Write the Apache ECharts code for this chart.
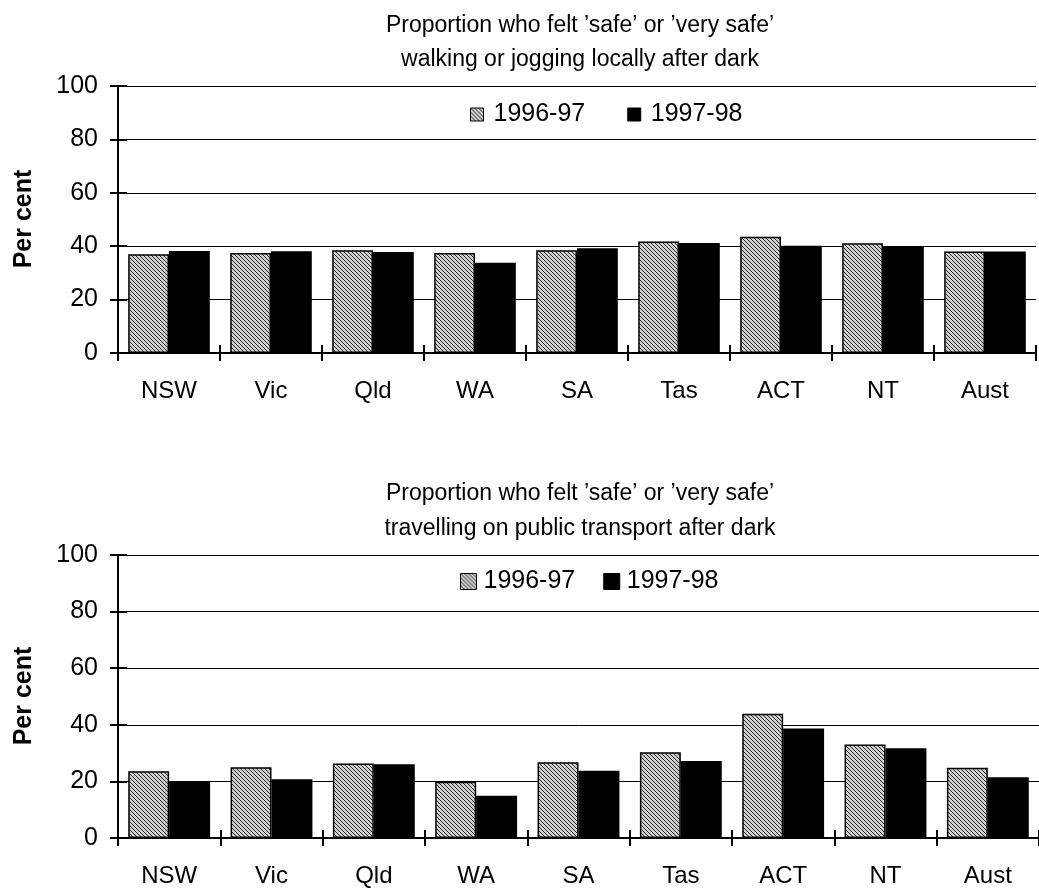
<!DOCTYPE html>
<html><head><meta charset="utf-8">
<script src="https://cdn.jsdelivr.net/npm/echarts@6/dist/echarts.min.js"></script>
<style>html,body{margin:0;padding:0;background:#fff}#c{width:1039px;height:889px}</style>
</head><body><div id="c"></div>
<script>
const categories = ['NSW','Vic','Qld','WA','SA','Tas','ACT','NT','Aust'];
const seriesNames = ['1996-97','1997-98'];
const walking9697 = [37.0, 37.5, 38.5, 37.5, 38.5, 41.8, 43.5, 41.1, 38.0];
const walking9798 = [38.2, 38.1, 37.8, 33.8, 39.2, 41.2, 40.2, 40.0, 38.0];
const transport9697 = [23.6, 25.0, 26.3, 19.9, 26.8, 30.3, 43.9, 33.0, 24.8];
const transport9798 = [19.8, 20.8, 26.1, 14.9, 23.8, 27.2, 38.7, 31.7, 21.5];
const yMin = 0, yMax = 100, yStep = 20;
const titleTop = ['Proportion who felt \u2019safe\u2019 or \u2019very safe\u2019', 'walking or jogging locally after dark'];
const titleBottom = ['Proportion who felt \u2019safe\u2019 or \u2019very safe\u2019', 'travelling on public transport after dark'];
const yName = 'Per cent';

const FONT = '"Liberation Sans", Arial, sans-serif';

function hatch(){
  const c = document.createElement('canvas'); c.width = 4; c.height = 4;
  const g = c.getContext('2d');
  g.fillStyle = '#d0d0d0'; g.fillRect(0,0,4,4);
  g.fillStyle = '#262626';
  for (let i = 0; i < 4; i++) g.fillRect(i, i, 1, 1);
  return c;
}
const hatchFill = {image: hatch(), repeat: 'repeat'};

const chart = echarts.init(document.getElementById('c'), null, {renderer: 'canvas'});

const grids = [
  {left: 118, top: 86, width: 918, height: 267},
  {left: 118, top: 555, width: 931, height: 283}
];

function xAxes(gi, labelMargin){
  return [
    {gridIndex: gi, type: 'category', data: categories, boundaryGap: true,
     axisLine: {lineStyle: {color: '#000', width: 2}},
     axisTick: {show: true, inside: false, length: 8, lineStyle: {color: '#000', width: 2}},
     axisLabel: {color: '#000', fontSize: 24, fontFamily: FONT, margin: labelMargin}},
    {gridIndex: gi, type: 'category', data: categories, boundaryGap: true, position: 'bottom',
     axisLine: {show: false},
     axisTick: {show: true, inside: true, length: 8, lineStyle: {color: '#000', width: 2}},
     axisLabel: {show: false}}
  ];
}
function yAxes(gi){
  return [
    {gridIndex: gi, type: 'value', min: yMin, max: yMax, interval: yStep,
     axisLine: {show: true, lineStyle: {color: '#000', width: 2}},
     axisTick: {show: true, inside: false, length: 8, lineStyle: {color: '#000', width: 2}},
     splitLine: {show: true, lineStyle: {color: '#000', width: 1}},
     axisLabel: {color: '#000', fontSize: 25, fontFamily: FONT, margin: 20}},
    {gridIndex: gi, type: 'value', min: yMin, max: yMax, interval: yStep, position: 'left',
     axisLine: {show: false},
     axisTick: {show: true, inside: true, length: 9, lineStyle: {color: '#000', width: 2}},
     splitLine: {show: false},
     axisLabel: {show: false}}
  ];
}

function barSeries(name, data, xi, yi, fill){
  return {
    name: name, type: 'bar', xAxisIndex: xi, yAxisIndex: yi, data: data,
    barWidth: '40%', barGap: '0%',
    itemStyle: {color: fill, borderColor: '#000', borderWidth: 1.5},
    emphasis: {disabled: true}, animation: false
  };
}

function titleGraphic(lines, ys){
  return lines.map((t, i) => ({
    type: 'text', x: 580, y: ys[i],
    style: {text: t, font: '23px ' + FONT, fill: '#000', textAlign: 'center', textVerticalAlign: 'middle'}
  }));
}
function yNameGraphic(cy){
  return {type: 'text', x: 24, y: cy, rotation: Math.PI / 2,
    style: {text: yName, font: 'bold 25px ' + FONT, fill: '#000', textAlign: 'center', textVerticalAlign: 'middle'}};
}

chart.setOption({
  animation: false,
  backgroundColor: '#fff',
  grid: grids,
  xAxis: [...xAxes(0, 26), ...xAxes(1, 26)],
  yAxis: [...yAxes(0), ...yAxes(1)],
  legend: [
    {data: seriesNames, icon: 'rect', itemWidth: 13, itemHeight: 13, left: 465, top: 97, itemGap: 42,
     textStyle: {color: '#000', fontSize: 25, fontFamily: FONT, padding: [0,0,0,5]},
     itemStyle: {borderColor: '#000', borderWidth: 1}},
    {data: seriesNames, icon: 'rect', itemWidth: 16, itemHeight: 16, left: 455, top: 564, itemGap: 28,
     textStyle: {color: '#000', fontSize: 25, fontFamily: FONT, padding: [0,0,0,2]},
     itemStyle: {borderColor: '#000', borderWidth: 1}}
  ],
  series: [
    barSeries(seriesNames[0], walking9697, 0, 0, hatchFill),
    barSeries(seriesNames[1], walking9798, 0, 0, '#000'),
    barSeries(seriesNames[0], transport9697, 2, 2, hatchFill),
    barSeries(seriesNames[1], transport9798, 2, 2, '#000')
  ],
  graphic: [
    ...titleGraphic(titleTop, [26, 60]),
    ...titleGraphic(titleBottom, [494, 529]),
    yNameGraphic(219),
    yNameGraphic(696)
  ]
});
</script>
</body></html>
